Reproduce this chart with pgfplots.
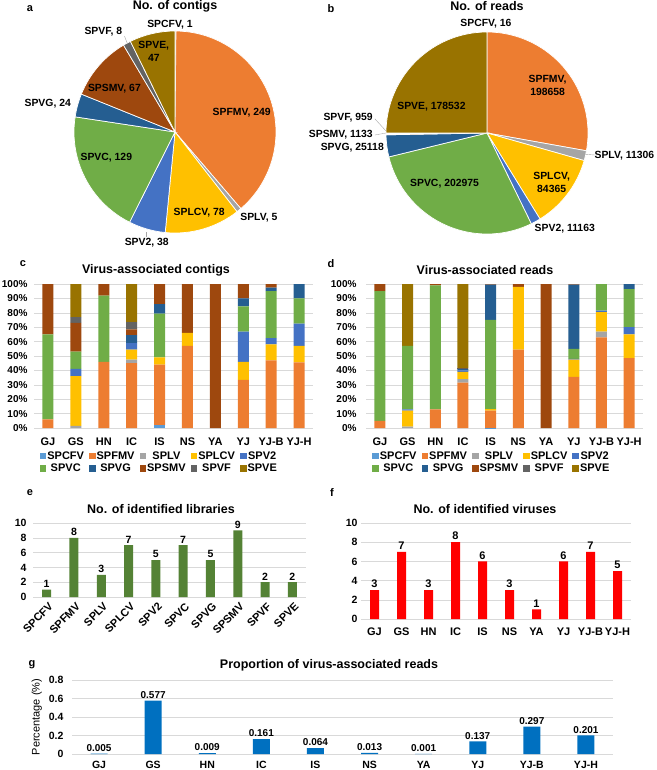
\documentclass[border=0pt]{standalone}
\usepackage{fontspec}
\setmainfont{Liberation Sans}
\usepackage{pgfplots}
\pgfplotsset{compat=1.18}
\usepackage{pgfplotstable}
\definecolor{cSPCFV}{HTML}{5B9BD5}
\definecolor{cSPFMV}{HTML}{ED7D31}
\definecolor{cSPLV}{HTML}{A5A5A5}
\definecolor{cSPLCV}{HTML}{FFC000}
\definecolor{cSPV2}{HTML}{4472C4}
\definecolor{cSPVC}{HTML}{70AD47}
\definecolor{cSPVG}{HTML}{255E91}
\definecolor{cSPSMV}{HTML}{9E480E}
\definecolor{cSPVF}{HTML}{636363}
\definecolor{cSPVE}{HTML}{997300}
\definecolor{eGreen}{HTML}{548235}
\definecolor{fRed}{HTML}{FF0000}
\definecolor{gBlue}{HTML}{0070C0}
\definecolor{gridc}{HTML}{D9D9D9}
\newcommand\fs[1]{\fontsize{#1}{#1}\selectfont}

\tikzset{plab/.style={font=\fontsize{10.4}{13}\selectfont\bfseries, align=center, inner sep=0pt}}
\pgfplotsset{
  sq/.style={legend image code/.code={\fill[##1] (0pt,-3.3pt) rectangle (6.6pt,3.3pt);}},
  excel/.style={
    scale only axis, anchor=south west, clip=false,
    axis line style={draw=none},
    ymajorgrids, major grid style={draw=gridc, line width=0.6pt},
    major tick length=0pt,
    /pgf/number format/assume math mode=true,
    tick label style={font=\fs{10}\bfseries},
    enlargelimits=false,
  },
  pie/.style={anchor=south west, x=101pt, y=101pt, xmin=-1.5, xmax=1.5,
    ymin=-1.2, ymax=1.2, hide axis, clip=false},
  stleg/.style={legend columns=5,
    legend style={draw=none, fill=none, anchor=north west, inner sep=0pt,
      font=\fs{11}\bfseries, nodes={inner sep=1pt}, row sep=1pt,
      /tikz/every even column/.append style={column sep=4pt}}},
}

\pgfplotstableread{
x SPCFV SPFMV SPLV SPLCV SPV2 SPVC SPVG SPSMV SPVF SPVE
0 0 6 0 0 0 59 0 35 0 0
1 0 0 1.5 34.5 5 12 0 20 4 23
2 0 46 0 0 0 46 0 8 0 0
3 0 45 2.5 7 4.5 0 5.5 4 5 26.5
4 2 42 0 5 0 30.5 6.5 14 0 0
5 0 57 0 9 0 0 0 34 0 0
6 0 0 0 0 0 0 0 100 0 0
7 0 33.5 0 12.5 21 17.5 5.5 10 0 0
8 0 47 0 11 4.5 32.5 2.5 2.5 0 0
9 0 45.5 0 11.5 15.5 17.5 10 0 0 0
}\contigs

\pgfplotstableread{
x SPCFV SPFMV SPLV SPLCV SPV2 SPVC SPVG SPSMV SPVF SPVE
0 0 5 0 0 0 90 0 5 0 0
1 0 0 1 11 1 44 0 0 0 43
2 0 13 0 0 0 86 0 1 0 0
3 0 31.5 2.5 5 1 0 1 0.3 0.2 58.5
4 0.1 12 0 1 0 62 24.5 0.4 0 0
5 0 54.5 0 43.5 0 0 0 2 0 0
6 0 0 0 0 0 0 0 100 0 0
7 0 35.5 0 12 0.5 7 44.5 0.5 0 0
8 0 63 4 13.5 1 18.5 0 0 0 0
9 0 48.5 0 16.5 5 26.5 3.5 0 0 0
}\reads

\pgfplotstableread{
x n
0 1
1 8
2 3
3 7
4 5
5 7
6 5
7 9
8 2
9 2
}\libs

\pgfplotstableread{
x n
0 3
1 7
2 3
3 8
4 6
5 3
6 1
7 6
8 7
9 5
}\viruses

\pgfplotstableread{
x p
0 0.005
1 0.577
2 0.009
3 0.161
4 0.064
5 0.013
6 0.001
7 0.137
8 0.297
9 0.201
}\prop

\begin{document}
\begin{tikzpicture}
\path[use as bounding box] (0pt,0pt) rectangle (656pt,-770pt);

% ---------- titles and panel letters
\node[font=\fs{12.5}\bfseries] at (175pt,-6pt) {No. of contigs};
\node[font=\fs{11}\bfseries] at (30pt,-9pt) {a};
\node[font=\fs{12.5}\bfseries] at (487pt,-6pt) {No. of reads};
\node[font=\fs{11}\bfseries] at (331pt,-9pt) {b};
\node[font=\fs{12.5}\bfseries] at (156pt,-270pt) {Virus-associated contigs};
\node[font=\fs{11}\bfseries] at (23pt,-264pt) {c};
\node[font=\fs{12.5}\bfseries] at (485pt,-270pt) {Virus-associated reads};
\node[font=\fs{11}\bfseries] at (331pt,-264pt) {d};
\node[font=\fs{12.5}\bfseries] at (161pt,-509pt) {No. of identified libraries};
\node[font=\fs{11}\bfseries] at (30pt,-493pt) {e};
\node[font=\fs{12.5}\bfseries] at (485pt,-509pt) {No. of identified viruses};
\node[font=\fs{11}\bfseries] at (332pt,-493pt) {f};
\node[font=\fs{12.5}\bfseries] at (329pt,-665pt) {Proportion of virus-associated reads};
\node[font=\fs{11}\bfseries] at (32pt,-665pt) {g};

% ---------- a: pie of contigs
\begin{axis}[pie, at={(23.5pt,-253.2pt)}]
\pgfplotsextra{
  \gdef\tot{0}
  \foreach \v in {1,249,5,78,38,129,24,67,8,47} {\xdef\tot{\fpeval{\tot+\v}}}
  \gdef\cum{90}
  \foreach \v/\c in {1/cSPCFV,249/cSPFMV,5/cSPLV,78/cSPLCV,38/cSPV2,129/cSPVC,24/cSPVG,67/cSPSMV,8/cSPVF,47/cSPVE} {
    \edef\e{\fpeval{\cum-\v/\tot*360}}
    \fill[\c, draw=white, line width=0.7pt] (axis cs:0,0) -- ++(\cum:101pt) arc[start angle=\cum, end angle=\e, radius=101pt] -- cycle;
    \xdef\cum{\e}
  }
}
\draw[black!35, line width=0.4pt] (axis cs:-0.50,0.95) -- (axis cs:-0.47,0.87);
\draw[black!35, line width=0.4pt] (axis cs:-0.29,-0.99) -- (axis cs:-0.29,-1.04);
\node[plab] at (axis cs:-0.05,1.06) {SPCFV, 1};
\node[plab] at (axis cs:0.66,0.19) {SPFMV, 249};
\node[plab] at (axis cs:0.83,-0.85) {SPLV, 5};
\node[plab] at (axis cs:0.24,-0.80) {SPLCV, 78};
\node[plab] at (axis cs:-0.28,-1.10) {SPV2, 38};
\node[plab] at (axis cs:-0.68,-0.25) {SPVC, 129};
\node[plab] at (axis cs:-1.26,0.28) {SPVG, 24};
\node[plab] at (axis cs:-0.60,0.43) {SPSMV, 67};
\node[plab] at (axis cs:-0.71,0.99) {SPVF, 8};
\node[plab] at (axis cs:-0.21,0.80) {SPVE,\\47};
\end{axis}

% ---------- b: pie of reads
\begin{axis}[pie, at={(335.5pt,-254.2pt)}]
\pgfplotsextra{
  \gdef\tot{0}
  \foreach \v in {16,198658,11306,84365,11163,202975,25118,1133,959,178532} {\xdef\tot{\fpeval{\tot+\v}}}
  \gdef\cum{90}
  \foreach \v/\c in {16/cSPCFV,198658/cSPFMV,11306/cSPLV,84365/cSPLCV,11163/cSPV2,202975/cSPVC,25118/cSPVG,1133/cSPSMV,959/cSPVF,178532/cSPVE} {
    \edef\e{\fpeval{\cum-\v/\tot*360}}
    \fill[\c, draw=white, line width=0.7pt] (axis cs:0,0) -- ++(\cum:101pt) arc[start angle=\cum, end angle=\e, radius=101pt] -- cycle;
    \xdef\cum{\e}
  }
}
\draw[black!35, line width=0.4pt] (axis cs:-1.11,0.14) -- (axis cs:-1.0,0.02);
\draw[black!35, line width=0.4pt] (axis cs:-1.11,-0.02) -- (axis cs:-1.0,0.0);
\draw[black!35, line width=0.4pt] (axis cs:0.97,-0.21) -- (axis cs:1.09,-0.22);
\node[plab] at (axis cs:-0.01,1.08) {SPCFV, 16};
\node[plab] at (axis cs:0.60,0.47) {SPFMV,\\198658};
\node[plab] at (axis cs:1.36,-0.22) {SPLV, 11306};
\node[plab] at (axis cs:0.64,-0.49) {SPLCV,\\84365};
\node[plab] at (axis cs:0.77,-0.95) {SPV2, 11163};
\node[plab] at (axis cs:-0.42,-0.50) {SPVC, 202975};
\node[plab, anchor=east] at (axis cs:-1.02,-0.15) {SPVG, 25118};
\node[plab, anchor=east] at (axis cs:-1.13,-0.02) {SPSMV, 1133};
\node[plab, anchor=east] at (axis cs:-1.13,0.15) {SPVF, 959};
\node[plab] at (axis cs:-0.55,0.26) {SPVE, 178532};
\end{axis}

% ---------- c: stacked contigs
\begin{axis}[excel, stleg, at={(34pt,-428pt)}, width=279pt, height=144pt,
  xmin=-0.5, xmax=9.5, ymin=0, ymax=100, ytick={0,10,...,100},
  yticklabel={\pgfmathprintnumber{\tick}\%},
  yticklabel style={xshift=-3pt},
  xtick={0,...,9}, xticklabels={GJ,GS,HN,IC,IS,NS,YA,YJ,YJ-B,YJ-H},
  xticklabel style={font=\fs{11}\bfseries, yshift=-6pt},
  ybar stacked, bar width=11pt,
  legend style={at={(0.02,-0.155)}}]
\addplot[fill=cSPCFV, draw=none, sq] table[x=x,y=SPCFV] {\contigs}; \addlegendentry{SPCFV}
\addplot[fill=cSPFMV, draw=none, sq] table[x=x,y=SPFMV] {\contigs}; \addlegendentry{SPFMV}
\addplot[fill=cSPLV, draw=none, sq] table[x=x,y=SPLV] {\contigs}; \addlegendentry{SPLV}
\addplot[fill=cSPLCV, draw=none, sq] table[x=x,y=SPLCV] {\contigs}; \addlegendentry{SPLCV}
\addplot[fill=cSPV2, draw=none, sq] table[x=x,y=SPV2] {\contigs}; \addlegendentry{SPV2}
\addplot[fill=cSPVC, draw=none, sq] table[x=x,y=SPVC] {\contigs}; \addlegendentry{SPVC}
\addplot[fill=cSPVG, draw=none, sq] table[x=x,y=SPVG] {\contigs}; \addlegendentry{SPVG}
\addplot[fill=cSPSMV, draw=none, sq] table[x=x,y=SPSMV] {\contigs}; \addlegendentry{SPSMV}
\addplot[fill=cSPVF, draw=none, sq] table[x=x,y=SPVF] {\contigs}; \addlegendentry{SPVF}
\addplot[fill=cSPVE, draw=none, sq] table[x=x,y=SPVE] {\contigs}; \addlegendentry{SPVE}
\end{axis}

% ---------- d: stacked reads
\begin{axis}[excel, stleg, at={(366pt,-428pt)}, width=277pt, height=144pt,
  xmin=-0.5, xmax=9.5, ymin=0, ymax=100, ytick={0,10,...,100},
  yticklabel={\pgfmathprintnumber{\tick}\%},
  yticklabel style={xshift=-6pt},
  xtick={0,...,9}, xticklabels={GJ,GS,HN,IC,IS,NS,YA,YJ,YJ-B,YJ-H},
  xticklabel style={font=\fs{11}\bfseries, yshift=-6pt},
  ybar stacked, bar width=11pt,
  legend style={at={(0.022,-0.155)}}]
\addplot[fill=cSPCFV, draw=none, sq] table[x=x,y=SPCFV] {\reads}; \addlegendentry{SPCFV}
\addplot[fill=cSPFMV, draw=none, sq] table[x=x,y=SPFMV] {\reads}; \addlegendentry{SPFMV}
\addplot[fill=cSPLV, draw=none, sq] table[x=x,y=SPLV] {\reads}; \addlegendentry{SPLV}
\addplot[fill=cSPLCV, draw=none, sq] table[x=x,y=SPLCV] {\reads}; \addlegendentry{SPLCV}
\addplot[fill=cSPV2, draw=none, sq] table[x=x,y=SPV2] {\reads}; \addlegendentry{SPV2}
\addplot[fill=cSPVC, draw=none, sq] table[x=x,y=SPVC] {\reads}; \addlegendentry{SPVC}
\addplot[fill=cSPVG, draw=none, sq] table[x=x,y=SPVG] {\reads}; \addlegendentry{SPVG}
\addplot[fill=cSPSMV, draw=none, sq] table[x=x,y=SPSMV] {\reads}; \addlegendentry{SPSMV}
\addplot[fill=cSPVF, draw=none, sq] table[x=x,y=SPVF] {\reads}; \addlegendentry{SPVF}
\addplot[fill=cSPVE, draw=none, sq] table[x=x,y=SPVE] {\reads}; \addlegendentry{SPVE}
\end{axis}

% ---------- e: identified libraries
\begin{axis}[excel, at={(33pt,-597pt)}, width=273pt, height=74pt,
  xmin=-0.5, xmax=9.5, ymin=0, ymax=10, ytick={0,2,...,10},
  yticklabel style={xshift=-3pt, font=\fs{10.5}\bfseries},
  xtick={0,...,9}, xticklabels={SPCFV,SPFMV,SPLV,SPLCV,SPV2,SPVC,SPVG,SPSMV,SPVF,SPVE},
  xticklabel style={font=\fs{11}\bfseries, rotate=45, anchor=north east, xshift=1pt, yshift=-1pt},
  ybar, bar width=9pt,
  nodes near coords, nodes near coords style={font=\fs{10.5}\bfseries, inner sep=2pt}]
\addplot[fill=eGreen, draw=none] table[x=x,y=n] {\libs};
\end{axis}

% ---------- f: identified viruses
\begin{axis}[excel, at={(361pt,-619pt)}, width=270pt, height=96pt,
  xmin=-0.5, xmax=9.5, ymin=0, ymax=10, ytick={0,2,...,10},
  yticklabel style={font=\fs{10.5}\bfseries},
  xtick={0,...,9}, xticklabels={GJ,GS,HN,IC,IS,NS,YA,YJ,YJ-B,YJ-H},
  xticklabel style={font=\fs{11}\bfseries, yshift=-5pt},
  ybar, bar width=9pt,
  nodes near coords, nodes near coords style={font=\fs{11}\bfseries, inner sep=2pt}]
\addplot[fill=fRed, draw=none] table[x=x,y=n] {\viruses};
\end{axis}

% ---------- g: proportion of reads
\begin{axis}[excel, at={(72pt,-754pt)}, width=541pt, height=74pt,
  xmin=-0.5, xmax=9.5, ymin=0, ymax=0.8, ytick={0,0.2,0.4,0.6,0.8},
  yticklabel style={xshift=-5pt, font=\fs{10.5}\bfseries},
  xtick={0,...,9}, xticklabels={GJ,GS,HN,IC,IS,NS,YA,YJ,YJ-B,YJ-H},
  xticklabel style={font=\fs{10.5}\bfseries, yshift=-4pt},
  ylabel={Percentage (\%)}, ylabel style={font=\fs{11}},
  ybar, bar width=17pt,
  nodes near coords={\pgfmathprintnumber[fixed,fixed zerofill,precision=3]{\pgfplotspointmeta}},
  nodes near coords style={font=\fs{10}\bfseries, inner sep=2pt}]
\addplot[fill=gBlue, draw=none] table[x=x,y=p] {\prop};
\end{axis}
\end{tikzpicture}
\end{document}
